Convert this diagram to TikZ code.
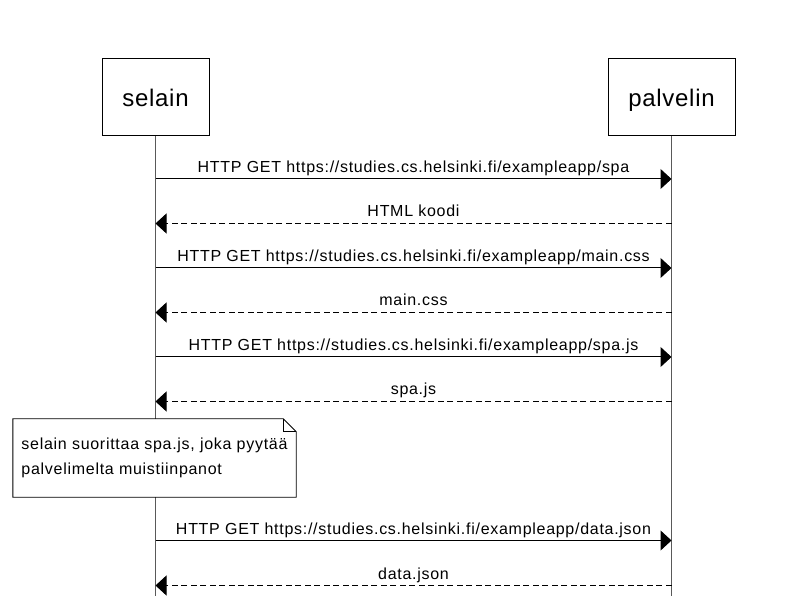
\documentclass[tikz,border=0pt]{standalone}
\usepackage{fontspec}
\setmainfont{Liberation Sans}[LetterSpace=4.5, Ligatures=NoCommon]
\usetikzlibrary{arrows.meta,positioning}

\begin{document}
\begin{tikzpicture}[
  x=1pt, y=-1pt,
  font=\fontsize{16}{18}\selectfont,
  part/.style    = {rectangle, draw=black, line width=1pt, fill=white, inner sep=0pt,
                    minimum height=77pt, text height=18pt, text depth=0pt,
                    font=\fontsize{24}{28}\selectfont\addfontfeatures{LetterSpace=3}},
  life/.style    = {draw=black!65, line width=1.2pt},
  req/.style     = {-{Triangle[length=11pt, width=20pt]}, draw=black, line width=1pt},
  res/.style     = {req, dash pattern=on 6pt off 3.5pt},
  msg/.style     = {anchor=base, yshift=6.5pt, inner sep=0pt},
  notebox/.style = {fill=white, align=left, inner sep=0pt, minimum width=283pt,
                    minimum height=78pt, font=\fontsize{16}{25}\selectfont},
  notedraw/.style= {draw=black, line width=.9pt},
]
\useasboundingbox (0,0) rectangle (807,596);

% ── partecipanti e linee di vita ────────────────────────────────────────
\node[part, minimum width=107pt] (selain) at (155.5,97.5) {selain};
\node[part, minimum width=127pt, right=398pt of selain] (palvelin) {palvelin};
\coordinate (fondo) at (0,596);

\draw[life] (selain.south) -- (selain.south |- fondo);
\draw[life] (palvelin.south) -- (palvelin.south |- fondo);

% ── caricamento della pagina ────────────────────────────────────────────
\coordinate (s1) at (selain.south |- 0,179);   \coordinate (p1) at (palvelin.south |- 0,179);
\coordinate (s2) at (selain.south |- 0,223.5); \coordinate (p2) at (palvelin.south |- 0,223.5);
\coordinate (s3) at (selain.south |- 0,268);   \coordinate (p3) at (palvelin.south |- 0,268);
\coordinate (s4) at (selain.south |- 0,312.5); \coordinate (p4) at (palvelin.south |- 0,312.5);
\coordinate (s5) at (selain.south |- 0,357);   \coordinate (p5) at (palvelin.south |- 0,357);
\coordinate (s6) at (selain.south |- 0,401.5); \coordinate (p6) at (palvelin.south |- 0,401.5);

\draw[req] (s1) -- node[msg] {HTTP GET https://studies.cs.helsinki.fi/exampleapp/spa} (p1);
\draw[res] (p2) -- node[msg] {HTML koodi} (s2);
\draw[req] (s3) -- node[msg] {HTTP GET https://studies.cs.helsinki.fi/exampleapp/main.css} (p3);
\draw[res] (p4) -- node[msg] {main.css} (s4);
\draw[req] (s5) -- node[msg] {HTTP GET https://studies.cs.helsinki.fi/exampleapp/spa.js} (p5);
\draw[res] (p6) -- node[msg] {spa.js} (s6);

% ── nota sul lato del browser ───────────────────────────────────────────
\node[notebox] (nota) at (154.5,458) {selain suorittaa spa.js, joka pyytää\\palvelimelta muistiinpanot};
\draw[notedraw] (nota.north west) -- ([xshift=-13pt]nota.north east)
          -- ([yshift=-13pt]nota.north east) -- (nota.south east)
          -- (nota.south west) -- cycle;
\draw[notedraw] ([xshift=-13pt]nota.north east) |- ([yshift=-13pt]nota.north east);

% ── richiesta dei dati ──────────────────────────────────────────────────
\coordinate (s7) at (selain.south |- 0,540.5); \coordinate (p7) at (palvelin.south |- 0,540.5);
\coordinate (s8) at (selain.south |- 0,585.5); \coordinate (p8) at (palvelin.south |- 0,585.5);

\draw[req] (s7) -- node[msg] {HTTP GET https://studies.cs.helsinki.fi/exampleapp/data.json} (p7);
\draw[res] (p8) -- node[msg] {data.json} (s8);
\end{tikzpicture}
\end{document}
